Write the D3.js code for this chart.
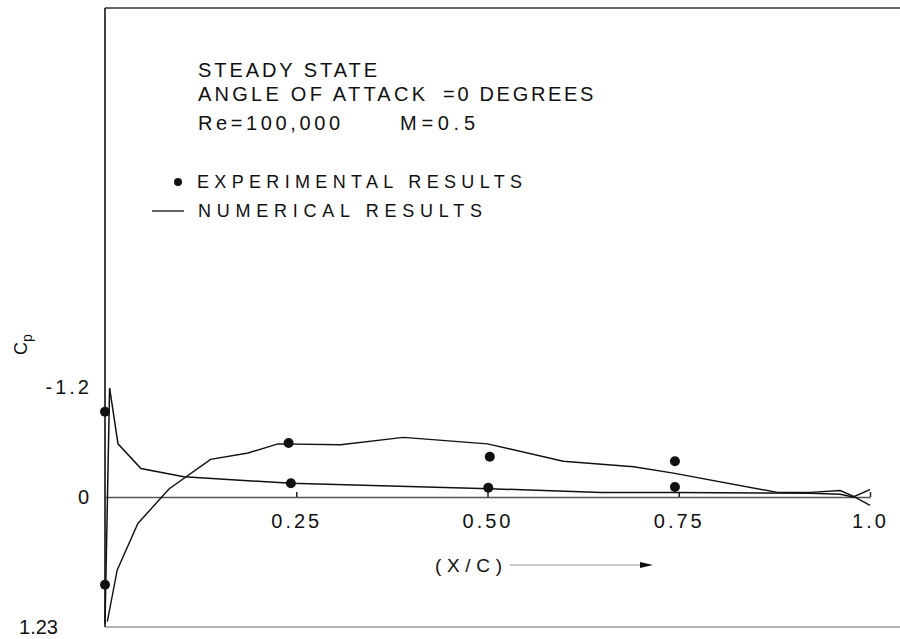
<!DOCTYPE html>
<html>
<head>
<meta charset="utf-8">
<script src="https://cdn.jsdelivr.net/npm/d3@7"></script>
<style>
  body { margin: 0; background: #fff; }
  svg text { font-family: "Liberation Sans", Arial, sans-serif; fill: #111; }
</style>
</head>
<body>
<svg id="chart" width="900" height="639"></svg>
<script>
// numerical results: curve with the leading edge suction spike
const curve1X = [0, 0.006, 0.017, 0.047, 0.103, 0.243, 0.503, 0.649, 0.745, 0.922, 0.961, 0.978, 1.0]
const curve1Cp = [1.2, -1.19, -0.58, -0.31, -0.22, -0.15, -0.09, -0.05, -0.05, -0.04, -0.03, 0, -0.08]

// numerical results: curve rising from the stagnation point
const curve2X = [0.003, 0.016, 0.043, 0.073, 0.084, 0.138, 0.187, 0.226, 0.308, 0.39, 0.5, 0.599, 0.691, 0.743, 0.879, 0.922, 0.961, 0.978, 1.0]
const curve2Cp = [1.18, 0.69, 0.25, 0.01, -0.09, -0.41, -0.48, -0.58, -0.57, -0.65, -0.58, -0.39, -0.33, -0.26, -0.05, -0.05, -0.07, -0.01, 0.08]

// experimental results
const expX = [0, 0, 0.24, 0.243, 0.503, 0.501, 0.745, 0.745]
const expCp = [-0.93, 0.83, -0.59, -0.15, -0.44, -0.10, -0.39, -0.11]

// axis ticks
const xTickValues = [0.25, 0.5, 0.75, 1.0]
const xTickLabels = ['0.25', '0.50', '0.75', '1.0']
const yTickValues = [-1.2, 0, 1.23]
const yTickLabels = ['-1.2', '0', '1.23']

const svg = d3.select('#chart')
const frameLeft = 105
const frameTop = 8
const frameBottom = 627

// scales (Cp is plotted negative up)
const x = d3.scaleLinear().domain([0, 1]).range([105, 870])
const y = d3.scaleLinear().domain([-1.2, 0, 1.23]).range([387, 497, 627])

// frame
svg.append('line')
  .attr('x1', frameLeft).attr('x2', 900).attr('y1', frameTop).attr('y2', frameTop)
  .attr('stroke', '#333').attr('stroke-width', 1.3)
svg.append('line')
  .attr('x1', frameLeft).attr('x2', 900).attr('y1', frameBottom).attr('y2', frameBottom)
  .attr('stroke', '#666').attr('stroke-width', 1.1)
svg.append('line')
  .attr('x1', frameLeft).attr('x2', frameLeft).attr('y1', frameTop).attr('y2', frameBottom)
  .attr('stroke', '#111').attr('stroke-width', 1.6)

// zero line with small ticks
const xAxis = svg.append('g')
  .attr('transform', `translate(0, ${y(0)})`)
  .call(d3.axisBottom(x)
    .tickValues(xTickValues)
    .tickSize(-5)
    .tickSizeOuter(0)
    .tickPadding(17)
    .tickFormat((d, i) => xTickLabels[i]))
xAxis.select('.domain').attr('stroke', '#555').attr('stroke-width', 1.3)
xAxis.selectAll('.tick line').attr('stroke', '#222').attr('stroke-width', 1.5)
xAxis.selectAll('.tick text')
  .attr('font-size', 20)
  .attr('letter-spacing', 3)
  .attr('fill', '#111')

// y labels
const yAxis = svg.append('g')
  .attr('transform', `translate(${frameLeft}, 0)`)
  .call(d3.axisLeft(y)
    .tickValues(yTickValues)
    .tickSize(0)
    .tickPadding(13)
    .tickFormat((d, i) => yTickLabels[i]))
yAxis.select('.domain').remove()
yAxis.selectAll('.tick text')
  .attr('font-size', 20)
  .attr('letter-spacing', (d, i) => i === 2 ? 0 : 3)
  .attr('fill', '#111')
  .attr('dx', (d, i) => i === 2 ? -34 : 0)

// numerical curves
const line = d3.line()
  .x(d => x(d[0]))
  .y(d => y(d[1]))

svg.append('path')
  .datum(curve1X.map((v, i) => [v, curve1Cp[i]]))
  .attr('d', line)
  .attr('fill', 'none')
  .attr('stroke', '#111')
  .attr('stroke-width', 1.5)

svg.append('path')
  .datum(curve2X.map((v, i) => [v, curve2Cp[i]]))
  .attr('d', line)
  .attr('fill', 'none')
  .attr('stroke', '#111')
  .attr('stroke-width', 1.4)

// experimental points
svg.selectAll('circle.exp')
  .data(expX.map((v, i) => [v, expCp[i]]))
  .enter().append('circle')
  .attr('class', 'exp')
  .attr('cx', d => x(d[0]))
  .attr('cy', d => y(d[1]))
  .attr('r', 5)
  .attr('fill', '#111')

// header text
svg.append('text')
  .attr('x', 198).attr('y', 77)
  .attr('font-size', 20)
  .attr('textLength', 179).attr('lengthAdjust', 'spacing')
  .text('STEADY STATE')

const line2 = svg.append('text').attr('y', 101).attr('font-size', 20)
line2.append('tspan').attr('x', 198).attr('textLength', 227).attr('lengthAdjust', 'spacing').text('ANGLE OF ATTACK')
line2.append('tspan').attr('x', 443).attr('letter-spacing', 2.7).text('=0 DEGREES')

const line3 = svg.append('text').attr('y', 130).attr('font-size', 20)
line3.append('tspan').attr('x', 198).attr('textLength', 142).attr('lengthAdjust', 'spacing').text('Re=100,000')
line3.append('tspan').attr('x', 400).attr('textLength', 75).attr('lengthAdjust', 'spacing').text('M=0.5')

// legend
svg.append('circle').attr('cx', 178).attr('cy', 182).attr('r', 4).attr('fill', '#111')
svg.append('text')
  .attr('x', 197).attr('y', 188)
  .attr('font-size', 18)
  .attr('textLength', 325).attr('lengthAdjust', 'spacing')
  .text('EXPERIMENTAL RESULTS')

svg.append('line')
  .attr('x1', 152).attr('x2', 184).attr('y1', 211).attr('y2', 211)
  .attr('stroke', '#111').attr('stroke-width', 1.3)
svg.append('text')
  .attr('x', 198).attr('y', 217)
  .attr('font-size', 18)
  .attr('textLength', 284).attr('lengthAdjust', 'spacing')
  .text('NUMERICAL  RESULTS')

// Cp axis title
const cp = svg.append('text')
  .attr('transform', 'translate(27, 355) rotate(-90)')
  .attr('font-size', 18)
cp.append('tspan').text('C')
cp.append('tspan').attr('font-size', 14).attr('dy', 5).text('p')

// (X/C) title with arrow
svg.append('text')
  .attr('x', 435).attr('y', 572)
  .attr('font-size', 19)
  .attr('textLength', 67).attr('lengthAdjust', 'spacing')
  .text('(X/C)')
svg.append('line')
  .attr('x1', 510).attr('x2', 645).attr('y1', 565).attr('y2', 565)
  .attr('stroke', '#bbb').attr('stroke-width', 1.5)
svg.append('path')
  .attr('d', 'M640,562 L653,565 L640,568 Z')
  .attr('fill', '#111')
</script>
</body>
</html>
